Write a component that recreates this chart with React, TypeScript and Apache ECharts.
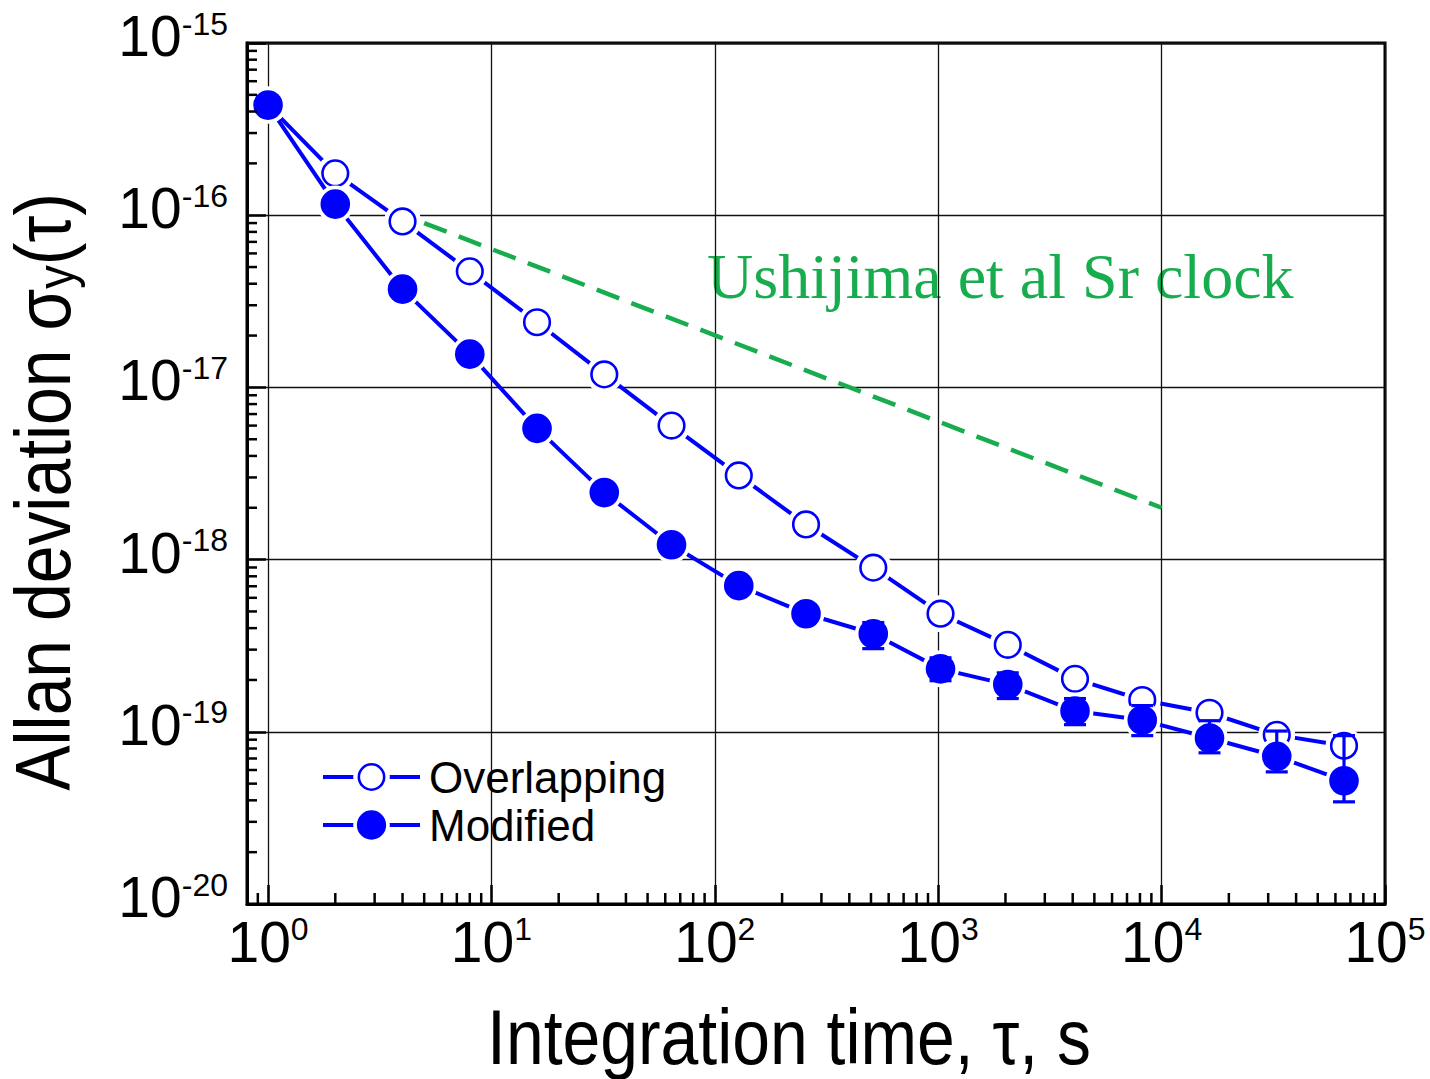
import React, { useEffect, useRef } from 'react';
import * as echarts from 'echarts';

// ---- data ----
const tau = [1, 2, 4, 8, 16, 32, 64, 128, 256, 512, 1024, 2048, 4096, 8192, 16384, 32768, 65536];
const overlapping = [4.36e-16, 1.75e-16, 9.2e-17, 4.72e-17, 2.39e-17, 1.19e-17, 6.0e-18, 3.08e-18, 1.6e-18, 8.98e-19, 4.85e-19, 3.2e-19, 2.03e-19, 1.53e-19, 1.29e-19, 9.6e-20, 8.3e-20];
const modified = [4.36e-16, 1.16e-16, 3.72e-17, 1.56e-17, 5.78e-18, 2.45e-18, 1.22e-18, 7.06e-19, 4.85e-19, 3.71e-19, 2.32e-19, 1.88e-19, 1.32e-19, 1.17e-19, 9.2e-20, 7.2e-20, 5.2e-20];
const errTau = [512, 1024, 2048, 4096, 8192, 16384, 32768, 65536];
const errLow = [3.04e-19, 1.98e-19, 1.56e-19, 1.1e-19, 9.5e-20, 7.55e-20, 5.85e-20, 3.92e-20];
const errHigh = [4.31e-19, 2.69e-19, 2.2e-19, 1.56e-19, 1.42e-19, 1.16e-19, 1.01e-19, 9.5e-20];
const srTau = [5, 10000];
const srSigma = [9e-17, 2e-18];

const xMin = 0.805;
const xMax = 1e5;
const yMin = 1e-20;
const yMax = 1e-15;

const xMinorTicks = [
  0.9,
  2, 3, 4, 5, 6, 7, 8, 9,
  20, 30, 40, 50, 60, 70, 80, 90,
  200, 300, 400, 500, 600, 700, 800, 900,
  2000, 3000, 4000, 5000, 6000, 7000, 8000, 9000,
  20000, 30000, 40000, 50000, 60000, 70000, 80000, 90000,
];
const yMinorTicks = [
  2e-20, 3e-20, 4e-20, 5e-20, 6e-20, 7e-20, 8e-20, 9e-20,
  2e-19, 3e-19, 4e-19, 5e-19, 6e-19, 7e-19, 8e-19, 9e-19,
  2e-18, 3e-18, 4e-18, 5e-18, 6e-18, 7e-18, 8e-18, 9e-18,
  2e-17, 3e-17, 4e-17, 5e-17, 6e-17, 7e-17, 8e-17, 9e-17,
  2e-16, 3e-16, 4e-16, 5e-16, 6e-16, 7e-16, 8e-16, 9e-16,
];

const SANS = '"Liberation Sans", Arial, Helvetica, sans-serif';
const SERIF = '"Liberation Serif", "Times New Roman", serif';
const BLUE = '#0000ff';
const GREEN = '#17ad4f';

const svgUri = (svg: string) => 'image://data:image/svg+xml;charset=utf-8,' + encodeURIComponent(svg);
const openSymbol = svgUri(
  "<svg xmlns='http://www.w3.org/2000/svg' width='38' height='38' viewBox='0 0 38 38'>" +
    "<circle cx='19' cy='19' r='18.5' fill='#ffffff'/>" +
    "<circle cx='19' cy='19' r='12.8' fill='#ffffff' stroke='#0000ff' stroke-width='2.6'/></svg>"
);
const filledSymbol = svgUri(
  "<svg xmlns='http://www.w3.org/2000/svg' width='38' height='38' viewBox='0 0 38 38'>" +
    "<circle cx='19' cy='19' r='18.5' fill='#ffffff'/>" +
    "<circle cx='19' cy='19' r='14.8' fill='#0000ff'/></svg>"
);

const powLabel = (v: number) => {
  const e = Math.log10(v);
  const r = Math.round(e);
  if (Math.abs(e - r) > 1e-3) return '';
  return `{b|10}{s|${r}}`;
};

const labelRich = {
  b: { fontSize: 57, lineHeight: 57, verticalAlign: 'bottom', padding: [14, 0, 0, 0], fontFamily: SANS, color: '#000' },
  s: { fontSize: 32, lineHeight: 32, verticalAlign: 'top', fontFamily: SANS, color: '#000' },
};

export default function App() {
  const ref = useRef<HTMLDivElement>(null);
  useEffect(() => {
    const chart = echarts.init(ref.current as HTMLDivElement, null, { renderer: 'svg' });
    const option: any = {
      animation: false,
      backgroundColor: '#ffffff',
      grid: {
        left: 247,
        right: 45,
        top: 43,
        bottom: 175,
        containLabel: false,
        outerBoundsMode: 'none',
        show: true,
        borderColor: '#000',
        borderWidth: 3,
        backgroundColor: 'transparent',
      },
      xAxis: {
        type: 'log',
        logBase: 10,
        min: xMin,
        max: xMax,
        axisLine: { show: true, lineStyle: { color: '#000', width: 3 } },
        axisTick: { show: true, inside: true, length: 19, lineStyle: { color: '#000', width: 2.5 } },
        splitLine: { show: true, lineStyle: { color: '#111', width: 1.3 } },
        axisLabel: {
          formatter: powLabel,
          rich: labelRich,
          margin: 9,
          color: '#000',
        },
      },
      yAxis: {
        type: 'log',
        logBase: 10,
        min: yMin,
        max: yMax,
        axisLine: { show: true, lineStyle: { color: '#000', width: 3 } },
        axisTick: { show: true, inside: true, length: 19, lineStyle: { color: '#000', width: 2.5 } },
        splitLine: { show: true, lineStyle: { color: '#111', width: 1.3 } },
        axisLabel: {
          formatter: powLabel,
          rich: labelRich,
          margin: 19,
          padding: [0, 0, 14, 0],
          color: '#000',
        },
      },
      legend: {
        orient: 'vertical',
        left: 321,
        top: 755,
        padding: 0,
        itemWidth: 97,
        itemHeight: 47,
        itemGap: 4,
        data: ['Overlapping', 'Modified'],
        lineStyle: { width: 4, color: BLUE },
        textStyle: { fontSize: 44, color: '#000', fontFamily: SANS, padding: [0, 0, 0, 4] },
      },
      graphic: [
        {
          type: 'text',
          x: 707,
          y: 276,
          style: {
            text: 'Ushijima et al Sr clock',
            fill: GREEN,
            fontSize: 64,
            fontFamily: SERIF,
            align: 'left',
            verticalAlign: 'middle',
          },
        },
        {
          type: 'text',
          x: 789,
          y: 1037,
          scaleX: 0.87,
          style: {
            text: 'Integration time, τ, s',
            fill: '#000',
            fontSize: 78,
            fontFamily: SANS,
            align: 'center',
            verticalAlign: 'middle',
          },
        },
        {
          type: 'text',
          x: 43,
          y: 492,
          rotation: Math.PI / 2,
          scaleX: 0.87,
          style: {
            text: '{a|Allan deviation σ}{s|y}{a|(τ)}',
            align: 'center',
            verticalAlign: 'middle',
            rich: {
              a: { fontSize: 78, lineHeight: 78, verticalAlign: 'top', padding: [0, 0, 18, 0], fontFamily: SANS, color: '#000' },
              s: { fontSize: 54, lineHeight: 54, verticalAlign: 'bottom', fontFamily: SANS, color: '#000' },
            },
          },
        },
      ],
      series: [
        {
          type: 'custom',
          name: 'xMinor',
          silent: true,
          clip: false,
          z: 6,
          encode: { x: 0, y: 1 },
          data: xMinorTicks.map((v) => [v, yMin]),
          renderItem: (params: any, api: any) => {
            const p = api.coord([api.value(0), yMin]);
            return {
              type: 'line',
              shape: { x1: p[0], y1: p[1], x2: p[0], y2: p[1] - 11 },
              style: { stroke: '#000', lineWidth: 2.5 },
            };
          },
        },
        {
          type: 'custom',
          name: 'yMinor',
          silent: true,
          clip: false,
          z: 6,
          encode: { x: 0, y: 1 },
          data: yMinorTicks.map((v) => [1, v]),
          renderItem: (params: any, api: any) => {
            const left = params.coordSys.x;
            const p = api.coord([1, api.value(1)]);
            return {
              type: 'line',
              shape: { x1: left, y1: p[1], x2: left + 10, y2: p[1] },
              style: { stroke: '#000', lineWidth: 2.5 },
            };
          },
        },
        {
          type: 'line',
          name: 'Ushijima et al Sr clock',
          data: srTau.map((t, i) => [t, srSigma[i]]),
          symbol: 'none',
          lineStyle: { color: GREEN, width: 4.5, type: [24, 13] },
          z: 2,
          silent: true,
        },
        {
          type: 'line',
          name: 'Overlapping',
          data: tau.map((t, i) => [t, overlapping[i]]),
          symbol: openSymbol,
          symbolSize: 38,
          showAllSymbol: true,
          color: BLUE,
          lineStyle: { color: BLUE, width: 4 },
          itemStyle: { color: BLUE },
          z: 3,
        },
        {
          type: 'line',
          name: 'Modified',
          data: tau.map((t, i) => [t, modified[i]]),
          symbol: filledSymbol,
          symbolSize: 38,
          showAllSymbol: true,
          color: BLUE,
          lineStyle: { color: BLUE, width: 4 },
          itemStyle: { color: BLUE },
          z: 4,
        },
        {
          type: 'custom',
          name: 'errors',
          silent: true,
          z: 5,
          encode: { x: 0, y: [1, 2] },
          data: errTau.map((t, i) => [t, errLow[i], errHigh[i]]),
          renderItem: (params: any, api: any) => {
            const x = api.value(0);
            const lo = api.coord([x, api.value(1)]);
            const hi = api.coord([x, api.value(2)]);
            const w = 11;
            const st = { stroke: BLUE, lineWidth: 3.2 };
            return {
              type: 'group',
              children: [
                { type: 'line', shape: { x1: lo[0], y1: lo[1], x2: hi[0], y2: hi[1] }, style: st },
                { type: 'line', shape: { x1: lo[0] - w, y1: lo[1], x2: lo[0] + w, y2: lo[1] }, style: st },
                { type: 'line', shape: { x1: hi[0] - w, y1: hi[1], x2: hi[0] + w, y2: hi[1] }, style: st },
              ],
            };
          },
        },
      ],
    };
    chart.setOption(option);
    return () => chart.dispose();
  }, []);
  return (
    <div
      ref={ref}
      style={{ position: 'fixed', left: 0, top: 0, width: 1430, height: 1079, background: '#ffffff' }}
    />
  );
}
